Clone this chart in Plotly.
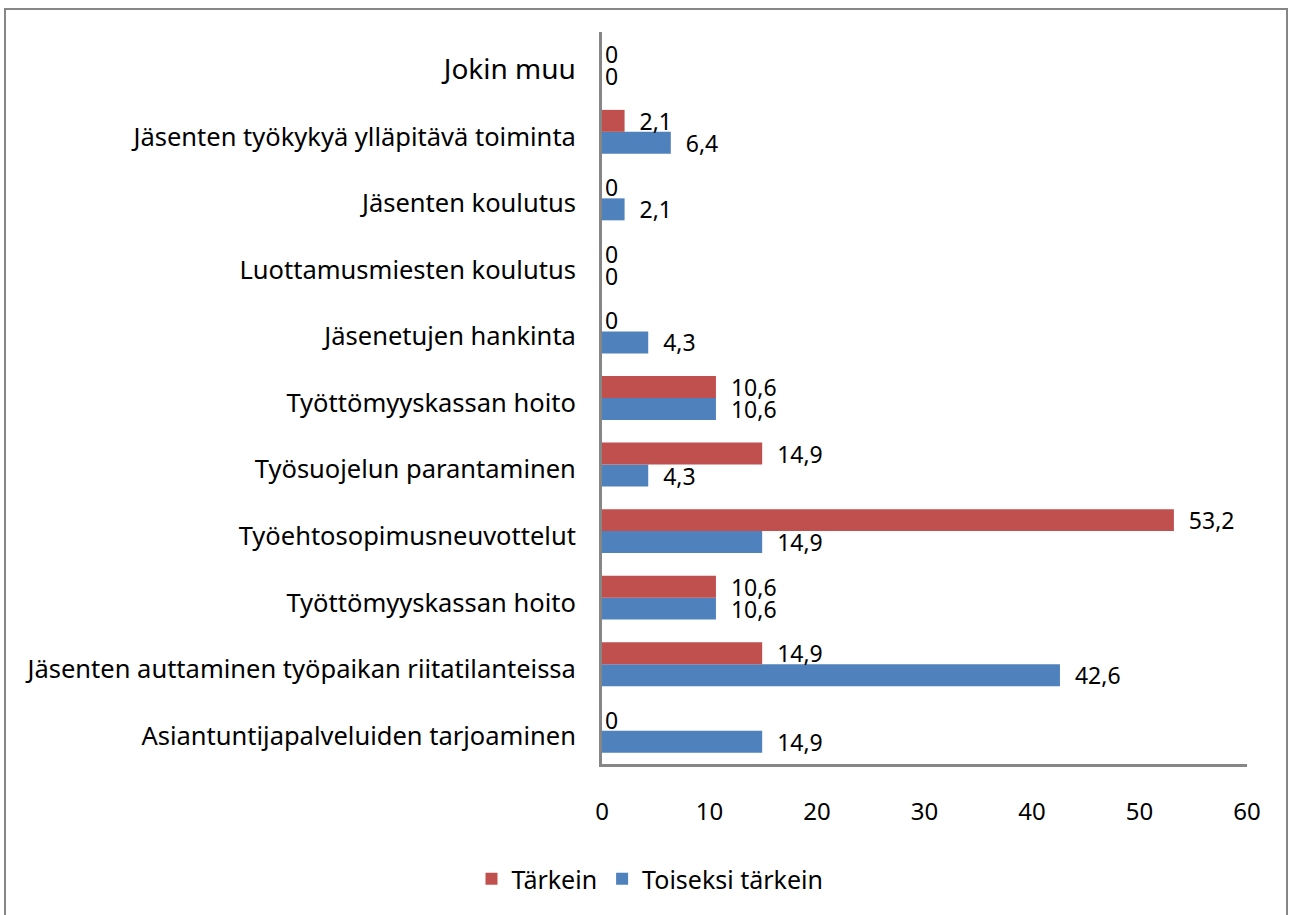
import plotly.graph_objects as go

categories = [
    "Asiantuntijapalveluiden tarjoaminen",
    "Jäsenten auttaminen työpaikan riitatilanteissa",
    "Työttömyyskassan hoito",
    "Työehtosopimusneuvottelut",
    "Työsuojelun parantaminen",
    "Työttömyyskassan hoito",
    "Jäsenetujen hankinta",
    "Luottamusmiesten koulutus",
    "Jäsenten koulutus",
    "Jäsenten työkykyä ylläpitävä toiminta",
    "Jokin muu",
]
tarkein = [0, 14.9, 10.6, 53.2, 14.9, 10.6, 0, 0, 0, 2.1, 0]
toiseksi = [14.9, 42.6, 10.6, 14.9, 4.3, 10.6, 4.3, 0, 2.1, 6.4, 0]
x_ticks = [0, 10, 20, 30, 40, 50, 60]

RED = "#C0504D"
BLUE = "#4F81BD"
FONT = "Noto Sans, sans-serif"
NB = "\u00a0"


def fmt(v):
    return "0" if v == 0 else NB * 2 + f"{v:.1f}".replace(".", ",")


pos = list(range(len(categories)))
ticktext = [
    (f"<span style='font-size:28px'>{c}</span>" if c == "Jokin muu" else c)
    for c in categories
]

fig = go.Figure()
fig.add_trace(go.Bar(
    y=pos, x=toiseksi, orientation="h", name="Toiseksi tärkein",
    marker=dict(color=BLUE, line=dict(width=0)), text=[fmt(v) for v in toiseksi],
    textposition="outside", cliponaxis=False, constraintext="none",
    textfont=dict(size=23, color="#000000", family=FONT),
))
fig.add_trace(go.Bar(
    y=pos, x=tarkein, orientation="h", name="Tärkein",
    marker=dict(color=RED, line=dict(width=0)), text=[fmt(v) for v in tarkein],
    textposition="outside", cliponaxis=False, constraintext="none",
    textfont=dict(size=23, color="#000000", family=FONT),
))

W, H = 1289, 915
L, R, T, B = 602, 42, 32, 151
pw, ph = W - L - R, H - T - B


def px2x(x):
    return (x - L) / pw


def px2y(y):
    return (H - B - y) / ph


fig.add_shape(type="rect", xref="paper", yref="paper",
              x0=px2x(5), x1=px2x(1287), y0=px2y(940), y1=px2y(9),
              line=dict(color="#868686", width=2), fillcolor="rgba(0,0,0,0)",
              layer="below")

fig.update_layout(
    width=W, height=H,
    margin=dict(l=L, r=R, t=T, b=B),
    paper_bgcolor="white", plot_bgcolor="white",
    barmode="group", bargap=0.34, bargroupgap=0,
    font=dict(family=FONT, size=24, color="#000000"),
    showlegend=True,
    legend=dict(orientation="h", x=px2x(650), xanchor="center",
                y=px2y(879), yanchor="middle", traceorder="reversed",
                font=dict(size=25), itemwidth=30),
    xaxis=dict(range=[0, 60], tickvals=x_ticks, showgrid=False,
               zeroline=False, showline=True, linecolor="#868686",
               linewidth=3, ticks="", ticklabelstandoff=24,
               tickfont=dict(size=24)),
    yaxis=dict(range=[-0.5, len(categories) - 0.5], tickvals=pos,
               ticktext=ticktext, showgrid=False, zeroline=False,
               showline=True, linecolor="#868686", linewidth=3, ticks="",
               ticklabelstandoff=18, ticklabelshift=5,
               tickfont=dict(size=25.5)),
)

fig.write_html("out.html", config={"displayModeBar": False},
               post_script="document.body.style.margin='0';document.body.style.overflow='hidden';")
